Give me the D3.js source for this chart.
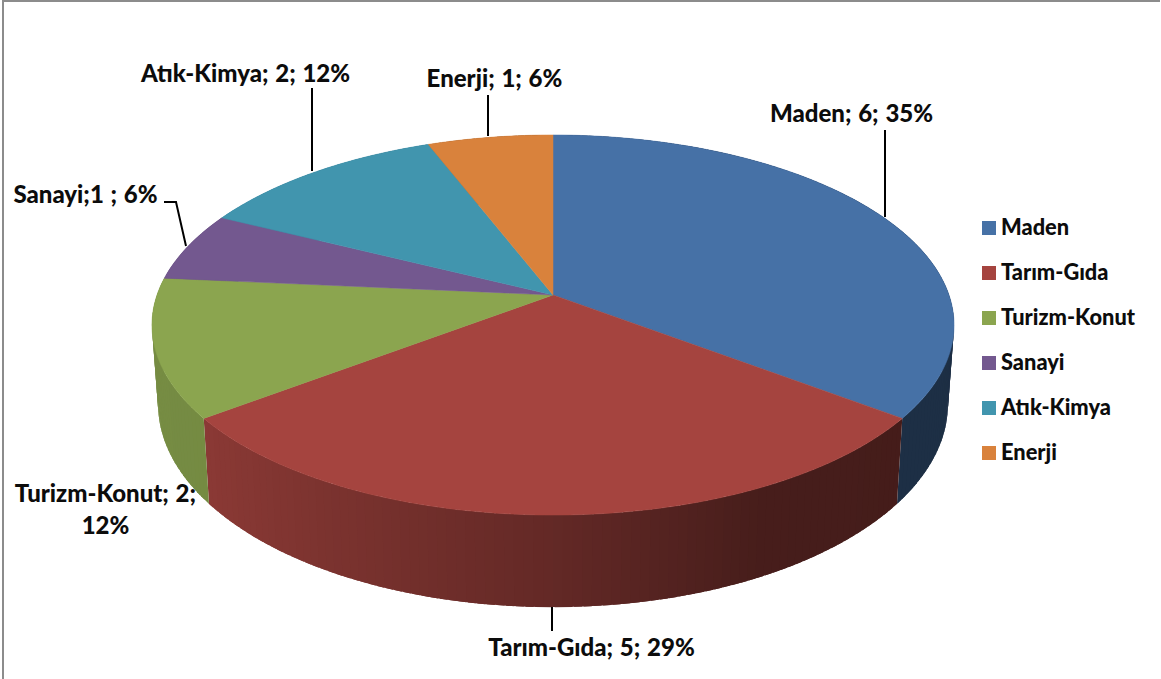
<!DOCTYPE html>
<html>
<head>
<meta charset="utf-8">
<script src="https://cdn.jsdelivr.net/npm/d3@7"></script>
<style>
    html, body { margin: 0; background: #fff; }
    svg { display: block; }
    text { font-family: Lato, sans-serif; font-weight: 900; fill: #0c0c0c; }
</style>
</head>
<body>
<div id="chart"></div>
<script>
const sectors = ['Maden', 'Tarım-Gıda', 'Turizm-Konut', 'Sanayi', 'Atık-Kimya', 'Enerji'];
const counts = [6, 5, 2, 1, 2, 1];
const colors = ['#4671a6', '#a5443f', '#8ba54f', '#73588f', '#4195ae', '#d9823c'];
const labelLines = [
    ['Maden; 6; 35%'],
    ['Tarım-Gıda; 5; 29%'],
    ['Turizm-Konut; 2;', '12%'],
    ['Sanayi;1 ; 6%'],
    ['Atık-Kimya; 2; 12%'],
    ['Enerji; 1; 6%']
];

const width = 1161, height = 679;

let svg = d3.select('#chart').append('svg')
    .attr('width', width)
    .attr('height', height);

// frame around the chart
svg.append('path')
    .attr('d', `M3,${height + 5}V1H${width - 1}`)
    .attr('fill', 'none')
    .attr('stroke', '#8c8c8c')
    .attr('stroke-width', 2);

//
// PIE GEOMETRY
//
let pie = d3.pie().sort(null).value(d => d)(counts);
let color = d3.scaleOrdinal().domain(sectors).range(colors);

// the disc is seen in perspective, so its centre is not the centre of the ellipse
const cx = 553, cy = 295;
const topFace = { rx: 396, ry: 185.3, persp: 0.158, dy: 0 };
const bottomFace = { rx: 390, ry: 198, persp: 0.158, dy: 77 };

const project = (angle, face) => {
    let x = Math.sin(angle), y = -Math.cos(angle);
    let w = 1 - face.persp * y;
    return [cx + face.rx * x / w, cy + face.dy + face.ry * y / w];
};

const arcAngles = (a0, a1, step) => {
    let n = Math.max(1, Math.round((a1 - a0) / step));
    return d3.range(n + 1).map(i => a0 + (a1 - a0) * i / n);
};

let line = d3.line();
const step = Math.PI / 180;

// darker towards the right, in bands
let shade = d3.scaleLinear()
    .domain([-1, -0.8, 0, 0.45, 1])
    .range([0.85, 0.84, 0.6, 0.43, 0.41])
    .clamp(true);

//
// SIDE WALL
//
let strips = [];
pie.forEach((slice, i) => {
    let angles = arcAngles(slice.startAngle, slice.endAngle, step * 1.2);
    d3.pairs(angles).forEach(([a, b]) => {
        // each strip runs under the next one so no seams show
        strips.push({ sector: sectors[i], a, b, end: Math.min(b + step, slice.endAngle) });
    });
});

svg.append('g')
    .selectAll('path')
    .data(strips)
    .enter()
    .append('path')
    .attr('d', d => line([
        project(d.a, topFace), project(d.end, topFace),
        project(d.end, bottomFace), project(d.a, bottomFace)
    ]) + 'Z')
    .attr('fill', d => {
        let c = d3.rgb(color(d.sector));
        let k = shade(Math.sin((d.a + d.b) / 2));
        return d3.rgb(c.r * k, c.g * k, c.b * k).formatHex();
    });

//
// TOP FACE
//
svg.append('g')
    .selectAll('path')
    .data(pie)
    .enter()
    .append('path')
    .attr('d', d => line([
        [cx, cy],
        ...arcAngles(d.startAngle, d.endAngle, step).map(a => project(a, topFace))
    ]) + 'Z')
    .attr('fill', (d, i) => color(sectors[i]))
    .attr('stroke', (d, i) => color(sectors[i]))
    .attr('stroke-width', 0.5);

//
// LEADER LINES
//
const leaders = [
    [[885, 130], [885, 217]],
    [[552, 607], [552, 631]],
    [[164, 202], [176, 202], [186, 246]],
    [[312, 88], [312, 171]],
    [[488, 95], [488, 136]]
];

svg.append('g')
    .selectAll('path')
    .data(leaders)
    .enter()
    .append('path')
    .attr('d', d => line(d))
    .attr('fill', 'none')
    .attr('stroke', '#000')
    .attr('stroke-width', 2);

//
// DATA LABELS
//
const labelPos = [
    { x: 851.5, y: 122 },
    { x: 591.5, y: 656 },
    { x: 105.5, y: 502 },
    { x: 85.5, y: 203 },
    { x: 245.5, y: 82 },
    { x: 494.5, y: 87 }
];

svg.append('g')
    .selectAll('text')
    .data(labelLines)
    .enter()
    .append('text')
    .attr('text-anchor', 'middle')
    .attr('font-size', 24)
    .attr('word-spacing', 1)
    .each(function (lines, i) {
        d3.select(this).selectAll('tspan')
            .data(lines)
            .enter()
            .append('tspan')
            .attr('x', labelPos[i].x)
            .attr('y', (d, j) => labelPos[i].y + j * 32)
            .text(d => d);
    });

//
// LEGEND
//
let legendY = d3.scalePoint().domain(sectors).range([228, 453]);

let legend = svg.append('g')
    .selectAll('g')
    .data(sectors)
    .enter()
    .append('g')
    .attr('transform', d => 'translate(982,' + legendY(d) + ')');

legend.append('rect')
    .attr('y', -7)
    .attr('width', 14)
    .attr('height', 14)
    .attr('fill', d => color(d));

legend.append('text')
    .attr('x', 19)
    .attr('y', 7)
    .attr('font-size', 21.8)
    .text(d => d);
</script>
</body>
</html>
